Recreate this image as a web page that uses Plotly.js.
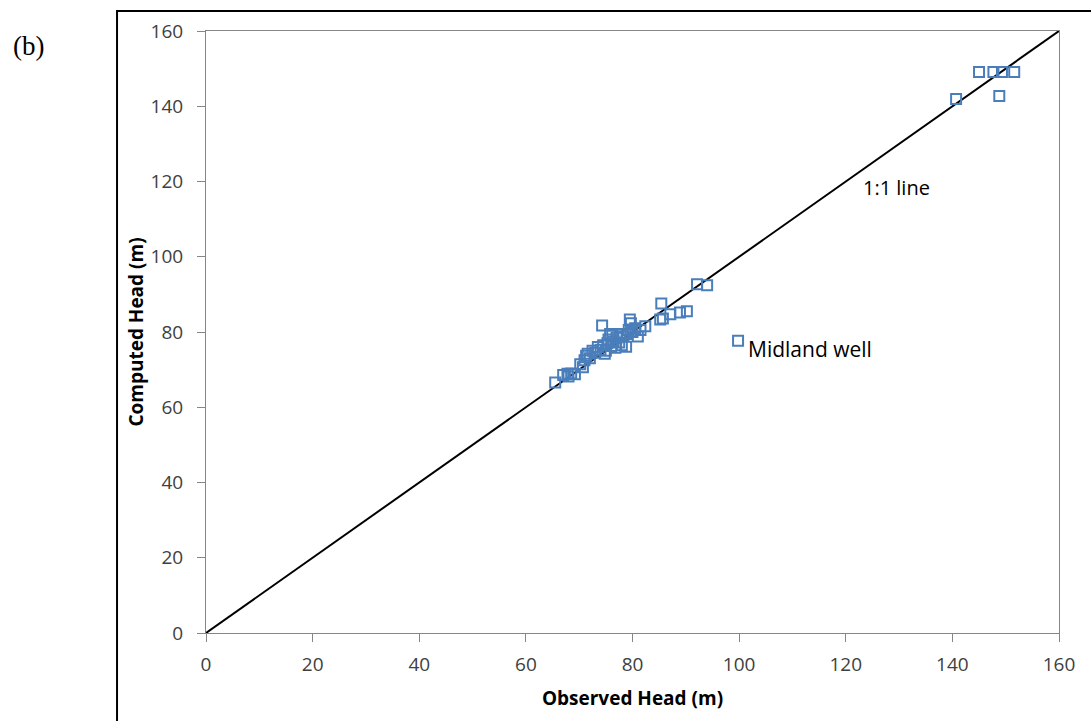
<!DOCTYPE html>
<html>
<head>
<meta charset="utf-8">
<script src="https://cdn.plot.ly/plotly-3.0.1.min.js"></script>
<style>html,body{margin:0;padding:0;background:#fff;}#chart{width:1091px;height:721px;}</style>
</head>
<body>
<div id="chart"></div>
<script>
const observed = [65.5,67.0,67.8,68.5,69.2,68.0,70.2,70.7,71.0,71.3,71.6,72.0,72.5,73.0,73.5,74.0,74.3,74.5,74.8,75.0,75.3,75.5,75.8,76.0,76.2,76.4,76.8,77.0,77.5,77.8,78.0,78.3,78.8,79.0,79.3,79.5,79.7,80.0,80.5,81.0,81.5,82.4,85.2,85.7,85.4,87.1,88.9,90.2,92.1,94.0,99.8,140.7,145.0,147.7,149.3,151.6,148.8];
const computed = [66.6,68.6,68.9,69.0,68.8,68.2,71.4,70.6,72.5,73.7,74.2,73.0,75.0,74.5,76.0,75.3,81.7,76.5,74.2,75.0,77.0,78.0,79.5,76.3,79.0,77.5,75.8,78.5,77.2,79.5,76.5,78.9,76.1,79.5,80.5,83.3,82.3,80.0,81.0,78.8,80.5,81.5,83.3,83.6,87.6,84.7,85.2,85.5,92.7,92.4,77.7,141.9,149.1,149.1,149.1,149.1,142.7];
const lineX = [0,160];
const lineY = [0,160];
const tickVals = [0,20,40,60,80,100,120,140,160];

const font = 'Open Sans, Liberation Sans, sans-serif';
const data = [
  {x: lineX, y: lineY, mode:'lines', type:'scatter', line:{color:'#000', width:2}, hoverinfo:'skip'},
  {x: observed, y: computed, mode:'markers', type:'scatter',
   marker:{symbol:'square-open', size:10, color:'#4a7ebb', line:{width:2, color:'#4a7ebb'}}}
];
const axisCommon = {
  range:[0,160], tickvals: tickVals, showgrid:false, zeroline:false,
  showline:true, linecolor:'#868686', linewidth:1, mirror:true,
  ticks:'outside', ticklen:8, tickcolor:'#868686',
  tickfont:{family:font, size:19, color:'#404040'}
};
const layout = {
  width:1091, height:721,
  margin:{l:206, r:32, t:31, b:88},
  paper_bgcolor:'#fff', plot_bgcolor:'#fff',
  showlegend:false,
  xaxis: Object.assign({}, axisCommon, {ticklabelstandoff:6, title:{text:'<b>Observed Head (m)</b>', font:{family:font, size:19, color:'#000'}, standoff:15}}),
  yaxis: Object.assign({}, axisCommon, {ticklabelstandoff:10, title:{text:'<b>Computed Head (m)</b>', font:{family:font, size:19, color:'#000'}, standoff:1}}),
  annotations:[
    {x:129.5, y:118.5, xref:'x', yref:'y', text:'1:1 line', showarrow:false, font:{family:font, size:20, color:'#000'}},
    {x:101.3, y:75.5, xref:'x', yref:'y', text:'Midland well', showarrow:false, xanchor:'left', font:{family:font, size:21, color:'#000'}},
    {x:-0.208, y:0.975, xref:'paper', yref:'paper', text:'(b)', showarrow:false, xanchor:'center', yanchor:'middle', font:{family:'Liberation Serif, serif', size:27, color:'#000'}}
  ],
  shapes:[
    {type:'rect', xref:'paper', yref:'paper', x0:-0.1043, x1:1.2, y0:-0.3, y1:1.0332, line:{color:'#000', width:2}, layer:'below'}
  ]
};
Plotly.newPlot('chart', data, layout, {displayModeBar:false, staticPlot:true});
</script>
</body>
</html>
